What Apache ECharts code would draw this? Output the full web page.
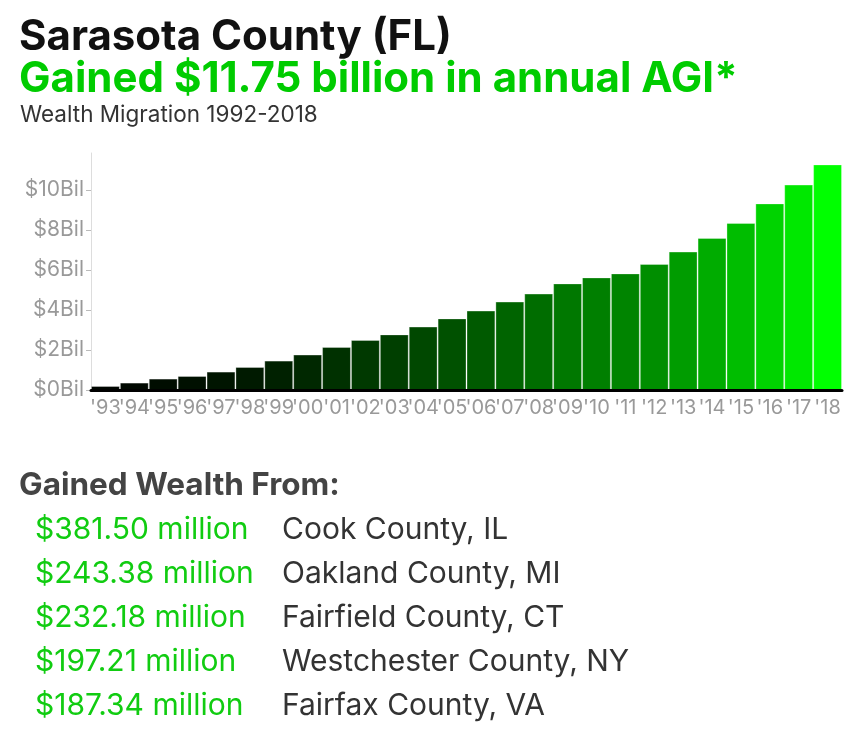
<!DOCTYPE html>
<html>
<head>
<meta charset="utf-8">
<title>Sarasota County (FL)</title>
<script src="https://cdn.jsdelivr.net/npm/echarts@6/dist/echarts.min.js"></script>
<style>
  html, body { margin: 0; padding: 0; background: #fff; }
  #chart { width: 859px; height: 751px; }
</style>
</head>
<body>
<div id="chart"></div>
<script>
var years = ["'93", "'94", "'95", "'96", "'97", "'98", "'99", "'00", "'01", "'02", "'03", "'04", "'05",
  "'06", "'07", "'08", "'09", "'10", "'11", "'12", "'13", "'14", "'15", "'16", "'17", "'18"];

// cumulative AGI gained, billions
var agiValues = [0.20, 0.37, 0.57, 0.70, 0.92, 1.15, 1.47, 1.77, 2.15, 2.50, 2.78, 3.17, 3.58,
  3.97, 4.42, 4.82, 5.33, 5.63, 5.83, 6.30, 6.92, 7.60, 8.35, 9.33, 10.27, 11.28];

var yMax = 11.85;
var yStep = 2;

var sourceAmounts = ['$381.50 million', '$243.38 million', '$232.18 million', '$197.21 million', '$187.34 million'];
var sourceCounties = ['Cook County, IL', 'Oakland County, MI', 'Fairfield County, CT', 'Westchester County, NY', 'Fairfax County, VA'];

var FONT = 'Inter, "Liberation Sans", Arial, sans-serif';

function textEl(x, y, text, size, color, weight) {
  return {
    type: 'text',
    x: x,
    y: y,
    style: {
      text: text,
      fontFamily: FONT,
      fontSize: size,
      fontWeight: weight || 'normal',
      fill: color,
      align: 'left',
      verticalAlign: 'middle'
    }
  };
}

var graphics = [
  textEl(19, 37, 'Sarasota County (FL)', 42, '#111', 'bold'),
  textEl(19, 79, 'Gained $11.75 billion in annual AGI*', 42, '#00cc00', 'bold'),
  textEl(20, 115, 'Wealth Migration 1992-2018', 22.5, '#333'),
  textEl(19, 486, 'Gained Wealth From:', 31.5, '#444', 'bold')
];

for (var i = 0; i < sourceAmounts.length; i++) {
  graphics.push(textEl(35, 530 + i * 44, sourceAmounts[i], 30, '#11cc11'));
  graphics.push(textEl(282, 530 + i * 44, sourceCounties[i], 30, '#333'));
}

var chart = echarts.init(document.getElementById('chart'));

chart.setOption({
  animation: false,
  backgroundColor: '#fff',
  grid: { left: 91, right: 17, top: 153, bottom: 361, containLabel: false },
  visualMap: {
    show: false,
    type: 'continuous',
    min: 0,
    max: agiValues[agiValues.length - 1],
    dimension: 1,
    inRange: { color: ['#000000', '#00ff00'] }
  },
  xAxis: {
    type: 'category',
    data: years,
    z: 5,
    axisLine: { lineStyle: { color: '#000', width: 3 } },
    axisTick: { alignWithLabel: true, length: 5, lineStyle: { color: '#bbb' } },
    axisLabel: { interval: 0, margin: 8, color: '#999', fontSize: 20, fontFamily: FONT }
  },
  yAxis: {
    type: 'value',
    min: 0,
    max: yMax,
    interval: yStep,
    splitLine: { show: false },
    axisLine: { show: true, lineStyle: { color: '#ddd', width: 1 } },
    axisTick: { show: true, length: 5, lineStyle: { color: '#bbb' } },
    axisLabel: {
      showMaxLabel: false,
      margin: 7,
      color: '#999',
      fontSize: 21,
      fontFamily: FONT,
      formatter: function(v) { return '$' + v + 'Bil'; }
    }
  },
  series: [{
    type: 'bar',
    data: agiValues,
    barCategoryGap: '0%',
    itemStyle: { borderColor: 'rgba(255,255,255,0.3)', borderWidth: 1 }
  }],
  graphic: graphics
});
</script>
</body>
</html>
